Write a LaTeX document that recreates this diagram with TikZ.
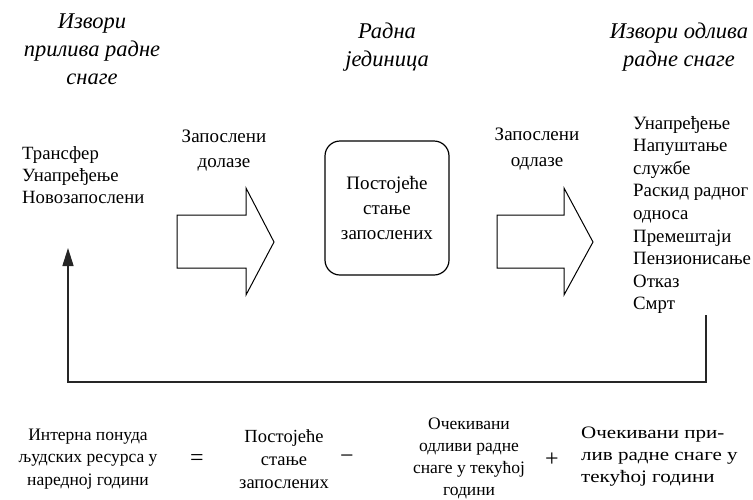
\documentclass[tikz,border=0pt]{standalone}
\usepackage{fontspec}
\setmainfont{Liberation Serif}
\newfontfamily\widefont[FakeStretch=1.2]{Liberation Serif}
\usetikzlibrary{arrows.meta}
\begin{document}
\begin{tikzpicture}[x=1pt,y=-1pt,
  txt/.style={inner sep=0pt, font=\fontsize{19}{22.5}\selectfont, align=center},
  txtl/.style={txt, align=left},
  heading/.style={inner sep=0pt, font=\fontsize{22.5}{28}\selectfont\itshape, align=center},
  op/.style={inner sep=0pt, font=\fontsize{24}{26}\selectfont},
  blockarrow/.style={draw=black, line width=1pt, line join=miter, fill=white},
  unitbox/.style={draw=black, line width=1.2pt, rounded corners=15pt, minimum width=124pt, minimum height=134pt, inner sep=0pt},
  feedback/.style={draw=black!85, line width=1.5pt, -{Triangle[length=18pt,width=11pt]}}
]
\useasboundingbox (0,0) rectangle (753,499);

% column headings
\node[heading] (hin) at (92,49) {Извори\\прилива радне\\снаге};
\node[heading] (hunit) at (387,47) {Радна\\јединица};
\node[heading] (hout) at (679,47) {Извори одлива\\радне снаге};

% sources of inflow
\node[txtl, anchor=west, font=\fontsize{18.7}{22}\selectfont] (inlist) at (22,175) {Трансфер\\Унапређење\\Новозапослени};

% incoming employees
\node[txt, font=\fontsize{19}{25}\selectfont] (inlbl) at (224,151) {Запослени\\долазе};
\draw[blockarrow] (177,215) -- (246,215) -- (246,188) -- (274,242) -- (246,295) -- (246,268) -- (177,268) -- cycle;

% current staff
\node[unitbox] (staff) at (387,208) {};
\node[txt, font=\fontsize{19}{25}\selectfont] (stafftxt) at (staff.center) {Постојеће\\стање\\запослених};

% outgoing employees
\node[txt, font=\fontsize{19}{26}\selectfont] (outlbl) at (537,149) {Запослени\\одлазе};
\draw[blockarrow] (497,215) -- (564,215) -- (564,188) -- (593,242) -- (564,295) -- (564,268) -- (497,268) -- cycle;

% sources of outflow
\node[txtl, anchor=west, font=\fontsize{18.8}{22.6}\selectfont] (outlist) at (633,215) {Унапређење\\Напуштање\\службе\\Раскид радног\\односа\\Премештаји\\Пензионисање\\Отказ\\Смрт};

% feedback loop from outflow back to inflow
\coordinate (fbstart) at (706,315);
\coordinate (fbcornerR) at (706,382);
\coordinate (fbcornerL) at (68,382);
\coordinate (fbend) at (68,248);
\draw[feedback] (fbstart) -- (fbcornerR) -- (fbcornerL) -- (fbend);

% supply equation
\node[txt, font=\fontsize{17.5}{22.5}\selectfont] (supply) at (88,459) {Интерна понуда\\људских ресурса у\\наредној години};
\node[op] (eq) at (197,460) {=};
\node[txt, font=\fontsize{18.5}{23}\selectfont] (current) at (284,459) {Постојеће\\стање\\запослених};
\node[op] (minus) at (347,459) {−};
\node[txt, font=\fontsize{17.5}{22}\selectfont] (outflow) at (469,458) {Очекивани\\одливи радне\\снаге у текућој\\години};
\node[op] (plus) at (552,460) {+};
\node[txtl, anchor=west, font=\widefont\fontsize{17.5}{22}\selectfont] (inflow) at (581,457) {Очекивани при-\\лив радне снаге у\\текућој години};
\end{tikzpicture}
\end{document}
